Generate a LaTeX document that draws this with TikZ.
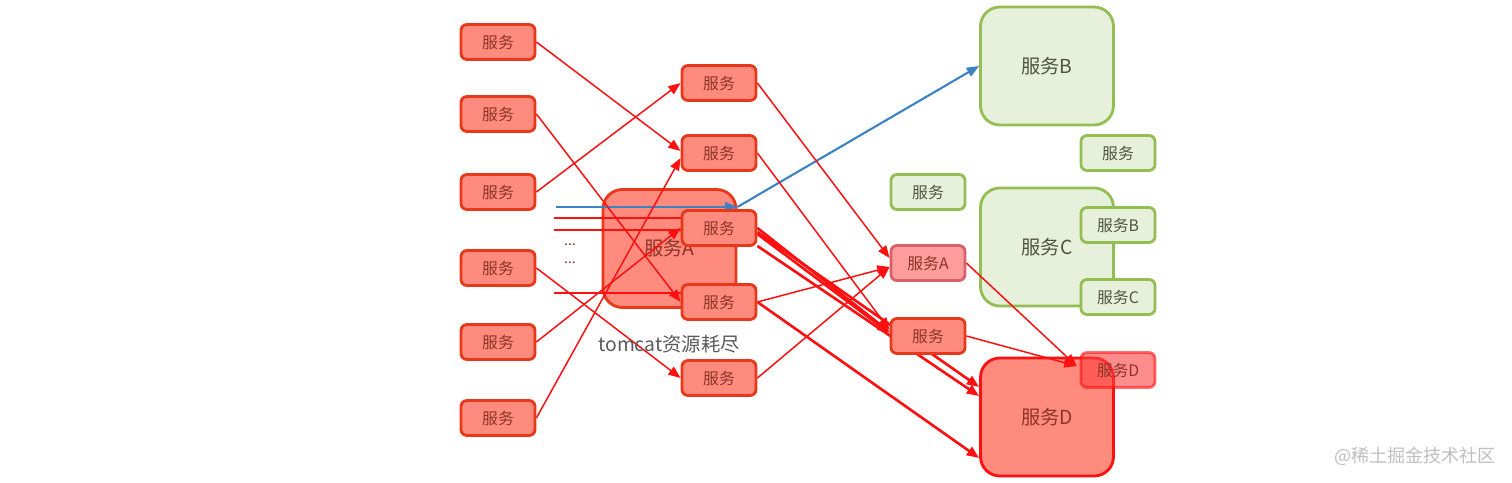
\documentclass[tikz,border=0pt]{standalone}
\usepackage{fontspec}
\setmainfont{Noto Sans CJK SC}
\usetikzlibrary{arrows.meta, calc}
\definecolor{boxfill}{HTML}{FF8B7E}
\definecolor{boxstroke}{HTML}{E8381A}
\definecolor{boxtext}{HTML}{8C3426}
\definecolor{pinkfill}{HTML}{FF9C9C}
\definecolor{pinkstroke}{HTML}{D86068}
\definecolor{greenfill}{HTML}{E7F0DA}
\definecolor{greenstroke}{HTML}{93BE52}
\definecolor{greentext}{HTML}{4E5442}
\definecolor{callred}{HTML}{FF1010}
\definecolor{callblue}{HTML}{3B82C4}
\pgfdeclarelayer{back}
\pgfdeclarelayer{wires}
\pgfsetlayers{back,wires,main}

\begin{document}
\begin{tikzpicture}[x=0.02cm, y=-0.02cm,
  svc/.style={draw=boxstroke, fill=boxfill, line width=1.6pt, rounded corners=3.4pt,
    minimum width=1.48cm, minimum height=0.70cm, inner sep=0pt, text=boxtext,
    font=\fontsize{9}{9}\selectfont},
  bigsvc/.style={svc, minimum width=2.66cm, minimum height=2.36cm, rounded corners=11pt,
    font=\fontsize{11}{11}\selectfont},
  greensvc/.style={svc, draw=greenstroke, fill=greenfill, text=greentext},
  biggreen/.style={bigsvc, draw=greenstroke, fill=greenfill, text=greentext},
  call/.style={draw=callred, line width=0.85pt, -{Triangle[length=7pt, width=5.5pt]}},
  heavycall/.style={call, line width=1.5pt},
  feed/.style={draw=callred, line width=1.5pt}
]
  \useasboundingbox (0,0) rectangle (1512,483);

  % overloaded service A and the services behind
  \begin{pgfonlayer}{back}
    \node[bigsvc] (bigA) at (669.5,248.5) {服务A};
    \node[biggreen] (svcB) at (1047,66) {服务B};
    \node[biggreen] (svcC) at (1047,247) {服务C};
    \node[bigsvc, draw=callred] (svcD) at (1047,417) {服务D};
  \end{pgfonlayer}
  \node[greensvc] (subB) at (1118,225) {服务B};
  \node[greensvc] (subC) at (1118,297) {服务C};
  \node[greensvc] (idle1) at (1118,153) {服务};
  \node[greensvc] (idle2) at (928,192) {服务};

  % incoming requests
  \coordinate (in0) at (556,207);
  \coordinate (in1) at (554,218);
  \coordinate (in2) at (554,230);
  \coordinate (in3) at (554,293);
  \node[text=boxtext, font=\fontsize{8}{8}\selectfont] (dots1) at (570,245) {...};
  \node[text=boxtext, font=\fontsize{8}{8}\selectfont] (dots2) at (570,263) {...};

  \node[svc] (l1) at (498,42) {服务};
  \node[svc] (l2) at (498,114) {服务};
  \node[svc] (l3) at (498,192) {服务};
  \node[svc] (l4) at (498,268) {服务};
  \node[svc] (l5) at (498,342) {服务};
  \node[svc] (l6) at (498,418) {服务};

  \node[svc] (m1) at (719,83) {服务};
  \node[svc] (m2) at (719,153) {服务};
  \node[svc] (m3) at (719,228) {服务};
  \node[svc] (m4) at (719,302) {服务};
  \node[svc] (m5) at (719,378) {服务};

  \node[svc, draw=pinkstroke, fill=pinkfill] (svcAs) at (928,263) {服务A};
  \node[svc] (rmid) at (928,336) {服务};
  \node[svc, draw=callred, fill=red!75, opacity=0.6, text opacity=1] (dSmall) at (1118,370) {服务D};

  % calls
  \begin{pgfonlayer}{wires}
    \draw[call, draw=callblue, line width=1.2pt] (in0) -- (in0 -| bigA.east);
    \draw[call, draw=callblue, line width=1.2pt] (in0 -| bigA.east) -- (svcB.west);
    \draw[feed] (in1) -- (in1 -| m3.west);
    \draw[feed] (in2) -- (in2 -| m3.west);
    \draw[feed] (in3) -- (in3 -| m4.west);

    \draw[call] (l1.east) -- ($(m2.west)+(0,-2)$);
    \draw[call] (l2.east) -- (m4.west);
    \draw[call] (l3.east) -- (m1.west);
    \draw[call] (l4.east) -- (m5.west);
    \draw[call] (l5.east) -- (m3.west);
    \draw[call] (l6.east) -- ($(m2.west)+(0,5)$);

    \draw[call] (m1.east) -- ($(svcAs.west)+(0,-5)$);
    \draw[call] (m2.east) -- ($(rmid.west)+(0,-6)$);
    \draw[heavycall] (m3.east) -- ($(rmid.west)+(0,-4)$);
    \draw[heavycall] ($(m3.east)+(0,6)$) -- ($(rmid.west)+(0,-3)$);
    \draw[heavycall] ($(m3.east)+(0,4)$) -- ($(svcD.west)+(0,-30)$);
    \draw[heavycall] ($(m3.east)+(0,18)$) -- ($(svcD.west)+(0,-21)$);
    \draw[call] (m4.east) -- ($(svcAs.west)+(0,4)$);
    \draw[heavycall] (m4.east) -- ($(svcD.west)+(0,41)$);
    \draw[call] (m5.east) -- ($(svcAs.west)+(0,4)$);
    \draw[call] (svcAs.east) -- ($(dSmall.west)+(-3,-4)$);
    \draw[call] (rmid.east) -- ($(dSmall.west)+(-3,-4)$);
  \end{pgfonlayer}

  \node[text=black!65, font=\fontsize{11}{11}\selectfont] (tomcat) at (669,344) {tomcat资源耗尽};
  \node[text=black!25, font=\fontsize{10.3}{10.3}\selectfont] (mark) at (1415,456) {@稀土掘金技术社区};
\end{tikzpicture}
\end{document}
